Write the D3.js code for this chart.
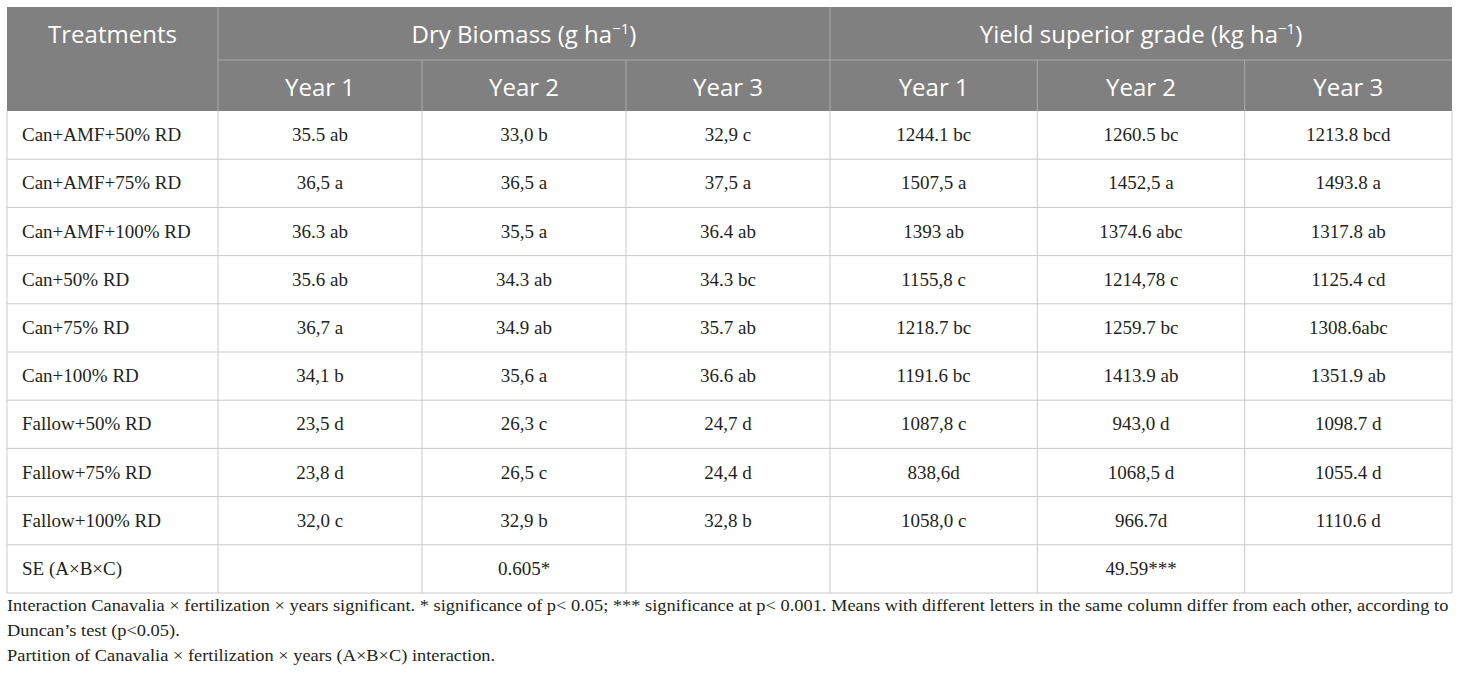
<!DOCTYPE html>
<html lang="en">
<head>
  <meta charset="UTF-8">
  <title>Dry biomass and yield table</title>
  <script src="https://d3js.org/d3.v7.min.js"></script>
  <style>
    body {
      margin: 0;
      background: #ffffff;
    }
    .head text {
      font-family: 'Open Sans', 'Noto Sans', sans-serif;
      fill: #ffffff;
    }
    .body text, .notes text {
      font-family: 'Liberation Serif', 'Times New Roman', serif;
      fill: #231f20;
    }
  </style>
</head>
<body>
  <div id="table"></div>

  <script>
    // table contents
    const treatments = [
      "Can+AMF+50% RD", "Can+AMF+75% RD", "Can+AMF+100% RD",
      "Can+50% RD", "Can+75% RD", "Can+100% RD",
      "Fallow+50% RD", "Fallow+75% RD", "Fallow+100% RD"
    ];
    const biomassYear1 = ["35.5 ab", "36,5 a", "36.3 ab", "35.6 ab", "36,7 a", "34,1 b", "23,5 d", "23,8 d", "32,0 c"];
    const biomassYear2 = ["33,0 b", "36,5 a", "35,5 a", "34.3 ab", "34.9 ab", "35,6 a", "26,3 c", "26,5 c", "32,9 b"];
    const biomassYear3 = ["32,9 c", "37,5 a", "36.4 ab", "34.3 bc", "35.7 ab", "36.6 ab", "24,7 d", "24,4 d", "32,8 b"];
    const yieldYear1 = ["1244.1 bc", "1507,5 a", "1393 ab", "1155,8 c", "1218.7 bc", "1191.6 bc", "1087,8 c", "838,6d", "1058,0 c"];
    const yieldYear2 = ["1260.5 bc", "1452,5 a", "1374.6 abc", "1214,78 c", "1259.7 bc", "1413.9 ab", "943,0 d", "1068,5 d", "966.7d"];
    const yieldYear3 = ["1213.8 bcd", "1493.8 a", "1317.8 ab", "1125.4 cd", "1308.6abc", "1351.9 ab", "1098.7 d", "1055.4 d", "1110.6 d"];
    const seLabel = "SE (A×B×C)";
    const seBiomass = ["", "0.605*", ""];
    const seYield = ["", "49.59***", ""];

    const yearLabels = ["Year 1", "Year 2", "Year 3"];
    const groupTitles = ["Dry Biomass (g ha", "Yield superior grade (kg ha"];
    const notes = [
      "Interaction Canavalia × fertilization × years significant. * significance of p< 0.05; *** significance at p< 0.001. Means with different letters in the same column differ from each other, according to",
      "Duncan’s test (p<0.05).",
      "Partition of Canavalia × fertilization × years (A×B×C) interaction."
    ];

    const width = 1460, height = 680;
    const left = 7, right = 1452, firstColRight = 218, groupSplit = 830;
    const headTop = 7, headMid = 60, headBottom = 111, tableBottom = 593;
    const headFill = "#808080", headLine = "#a9a9a9", bodyLine = "#c9c9c9";

    // one band scale per column group
    const groups = [
      { title: groupTitles[0], series: [biomassYear1, biomassYear2, biomassYear3], se: seBiomass,
        x: d3.scaleBand().domain(yearLabels).range([firstColRight, groupSplit]) },
      { title: groupTitles[1], series: [yieldYear1, yieldYear2, yieldYear3], se: seYield,
        x: d3.scaleBand().domain(yearLabels).range([groupSplit, right]) }
    ];

    const rowLabels = treatments.concat([seLabel]);
    const y = d3.scaleBand()
      .domain(d3.range(rowLabels.length))
      .range([headBottom, tableBottom]);

    // flat list of body cells
    const cells = [];
    groups.forEach(g => {
      yearLabels.forEach((yr, j) => {
        g.series[j].forEach((v, i) => cells.push({ x: g.x(yr) + g.x.bandwidth() / 2, row: i, text: v }));
        cells.push({ x: g.x(yr) + g.x.bandwidth() / 2, row: treatments.length, text: g.se[j] });
      });
    });

    const svg = d3.select("#table")
      .append("svg")
      .attr("width", width)
      .attr("height", height);

    // header
    const head = svg.append("g").attr("class", "head");
    head.append("rect")
      .attr("x", left).attr("y", headTop)
      .attr("width", right - left).attr("height", headBottom - headTop)
      .attr("fill", headFill);

    head.append("line")
      .attr("x1", firstColRight).attr("x2", right)
      .attr("y1", headMid).attr("y2", headMid)
      .attr("stroke", headLine);

    head.selectAll(".vfull")
      .data([firstColRight, groupSplit])
      .join("line")
      .attr("x1", d => d).attr("x2", d => d)
      .attr("y1", headTop).attr("y2", headBottom)
      .attr("stroke", headLine);

    const innerEdges = [];
    groups.forEach(g => yearLabels.slice(1).forEach(yr => innerEdges.push(g.x(yr))));

    head.selectAll(".vyear")
      .data(innerEdges)
      .join("line")
      .attr("x1", d => d).attr("x2", d => d)
      .attr("y1", headMid).attr("y2", headBottom)
      .attr("stroke", headLine);

    head.append("text")
      .attr("x", (left + firstColRight) / 2)
      .attr("y", 43)
      .attr("text-anchor", "middle")
      .attr("font-size", "24px")
      .text("Treatments");

    groups.forEach(g => {
      const [x0, x1] = g.x.range();
      const t = head.append("text")
        .attr("x", (x0 + x1) / 2)
        .attr("y", 43)
        .attr("text-anchor", "middle")
        .attr("font-size", "24px");
      t.append("tspan").text(g.title);
      t.append("tspan").attr("dy", -9).attr("font-size", "15px").text("−1");
      t.append("tspan").attr("dy", 9).text(")");

      head.selectAll(null)
        .data(yearLabels)
        .join("text")
        .attr("x", d => g.x(d) + g.x.bandwidth() / 2)
        .attr("y", 96)
        .attr("text-anchor", "middle")
        .attr("font-size", "24px")
        .text(d => d);
    });

    // body grid
    const body = svg.append("g").attr("class", "body");

    body.selectAll(".hline")
      .data(d3.range(1, rowLabels.length))
      .join("line")
      .attr("x1", left).attr("x2", right)
      .attr("y1", d => y(d)).attr("y2", d => y(d))
      .attr("stroke", bodyLine);

    body.selectAll(".vline")
      .data([firstColRight, groupSplit].concat(innerEdges))
      .join("line")
      .attr("x1", d => d).attr("x2", d => d)
      .attr("y1", headBottom).attr("y2", tableBottom)
      .attr("stroke", bodyLine);

    body.append("path")
      .attr("d", `M${left},${headBottom}V${tableBottom}H${right}V${headBottom}`)
      .attr("fill", "none")
      .attr("stroke", bodyLine);

    const baseY = i => y(i) + y.bandwidth() / 2 + 6;

    body.selectAll(".label")
      .data(rowLabels)
      .join("text")
      .attr("x", 22)
      .attr("y", (d, i) => baseY(i))
      .attr("font-size", "19px")
      .text(d => d);

    body.selectAll(".cell")
      .data(cells)
      .join("text")
      .attr("x", d => d.x)
      .attr("y", d => baseY(d.row))
      .attr("text-anchor", "middle")
      .attr("font-size", "19px")
      .text(d => d.text);

    // footnotes, squeezed to the table width like the condensed face in the source
    const noteG = svg.append("g").attr("class", "notes");
    const noteText = noteG.selectAll("text")
      .data(notes)
      .join("text")
      .attr("x", 0)
      .attr("y", (d, i) => 611 + i * 25)
      .attr("font-size", "17.5px")
      .text(d => d);

    const natural = noteText.node().getComputedTextLength();
    const sx = (1450 - left) / natural;
    noteG.attr("transform", `translate(${left},0) scale(${sx},1)`);
  </script>
</body>
</html>
